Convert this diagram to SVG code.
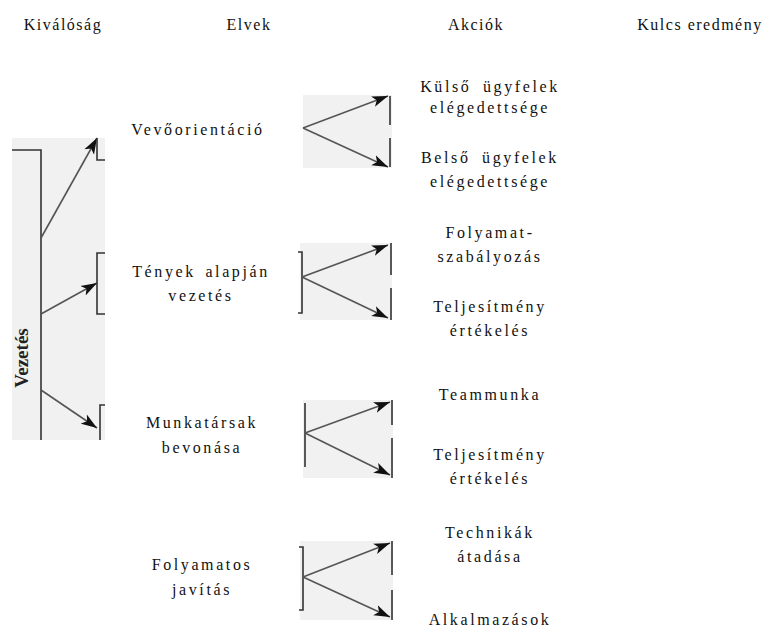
<svg xmlns="http://www.w3.org/2000/svg" width="780" height="630" viewBox="0 0 780 630">
<style>
text{font-family:'Liberation Serif','DejaVu Serif',serif}
.hdr{font-size:16px;fill:#111;letter-spacing:1.5px;text-anchor:middle}
.t{font-size:16px;fill:#111;letter-spacing:2.6px;text-anchor:middle}
.ln{stroke:#555;stroke-width:1.6;fill:none}
.br{stroke:#333;stroke-width:1.6;fill:none}
.bg{fill:#f1f1f1}
.vz{font-size:19px;font-weight:bold;fill:#222;text-anchor:middle}
</style>
<defs>
<marker id="ah" markerUnits="userSpaceOnUse" markerWidth="18" markerHeight="12" refX="16" refY="6" orient="auto">
<path d="M0,0.5 L16,6 L0,11.5 L4,6 Z" fill="#111"/>
</marker>
</defs>
<rect width="780" height="630" fill="#fff"/>
<g id="headers">
<text class="hdr" x="63" y="30">Kiválóság</text>
<text class="hdr" x="249" y="30">Elvek</text>
<text class="hdr" x="476" y="30">Akciók</text>
<text class="hdr" x="700" y="30">Kulcs eredmény</text>
</g>
<g id="vezetes">
<rect class="bg" x="12" y="138" width="93" height="302"/>
<text class="vz" transform="translate(28,358) rotate(-90)">Vezetés</text>
</g>
<g id="vevoorientacio"><text class="t" x="198" y="135">Vevőorientáció</text></g>
<g id="tenyek"><text class="t" x="201" y="277" word-spacing="3">Tények alapján</text><text class="t" x="201" y="301">vezetés</text></g>
<g id="munkatarsak"><text class="t" x="202" y="428">Munkatársak</text><text class="t" x="202" y="453">bevonása</text></g>
<g id="folyamatos"><text class="t" x="202" y="570">Folyamatos</text><text class="t" x="202" y="595">javítás</text></g>
<g id="kulso"><text class="t" x="490" y="92" word-spacing="5">Külső ügyfelek</text><text class="t" x="490" y="113">elégedettsége</text></g>
<g id="belso"><text class="t" x="490" y="163" word-spacing="5">Belső ügyfelek</text><text class="t" x="490" y="187">elégedettsége</text></g>
<g id="folyamatszab"><text class="t" x="490" y="238">Folyamat-</text><text class="t" x="490" y="262">szabályozás</text></g>
<g id="teljesitmeny1"><text class="t" x="490" y="312">Teljesítmény</text><text class="t" x="490" y="336">értékelés</text></g>
<g id="teammunka"><text class="t" x="490" y="400">Teammunka</text></g>
<g id="teljesitmeny2"><text class="t" x="490" y="460">Teljesítmény</text><text class="t" x="490" y="484">értékelés</text></g>
<g id="technikak"><text class="t" x="490" y="538">Technikák</text><text class="t" x="490" y="562">átadása</text></g>
<g id="alkalmazasok"><text class="t" x="490" y="625">Alkalmazások</text></g>
<g id="connectors">
<rect class="bg" x="303" y="95" width="89" height="73"/>
<rect class="bg" x="300" y="243" width="92" height="77"/>
<rect class="bg" x="303" y="400" width="90" height="78"/>
<rect class="bg" x="300" y="541" width="93" height="79"/>
<path class="br" d="M12,150 H41 V440"/>
<path class="ln" d="M41,238 L97,138" marker-end="url(#ah)"/>
<path class="br" d="M97,138 V160 H105"/>
<path class="ln" d="M41,314 L97,283" marker-end="url(#ah)"/>
<path class="br" d="M105,253 H97 V314 H105"/>
<path class="ln" d="M41,390 L97,428" marker-end="url(#ah)"/>
<path class="br" d="M105,405 H100 V440"/>
<path class="ln" d="M303,128 L388,96" marker-end="url(#ah)"/>
<path class="ln" d="M303,128 L388,167" marker-end="url(#ah)"/>
<path class="br" d="M390,96 V125 M390,138 V167"/>
<path class="br" d="M298,252 H302 V313 H298"/>
<path class="ln" d="M302,277 L388,245" marker-end="url(#ah)"/>
<path class="ln" d="M302,277 L388,318" marker-end="url(#ah)"/>
<path class="br" d="M391,243 V275 M391,288 V320"/>
<path class="br" d="M305,403 V467"/>
<path class="ln" d="M305,433 L390,402" marker-end="url(#ah)"/>
<path class="ln" d="M305,433 L390,475" marker-end="url(#ah)"/>
<path class="br" d="M392,400 V425 M392,438 V478"/>
<path class="br" d="M299,547 H303 V610 H299"/>
<path class="ln" d="M303,577 L390,543" marker-end="url(#ah)"/>
<path class="ln" d="M303,577 L390,617" marker-end="url(#ah)"/>
<path class="br" d="M392,541 V575 M392,590 V620"/>
</g>
</svg>
